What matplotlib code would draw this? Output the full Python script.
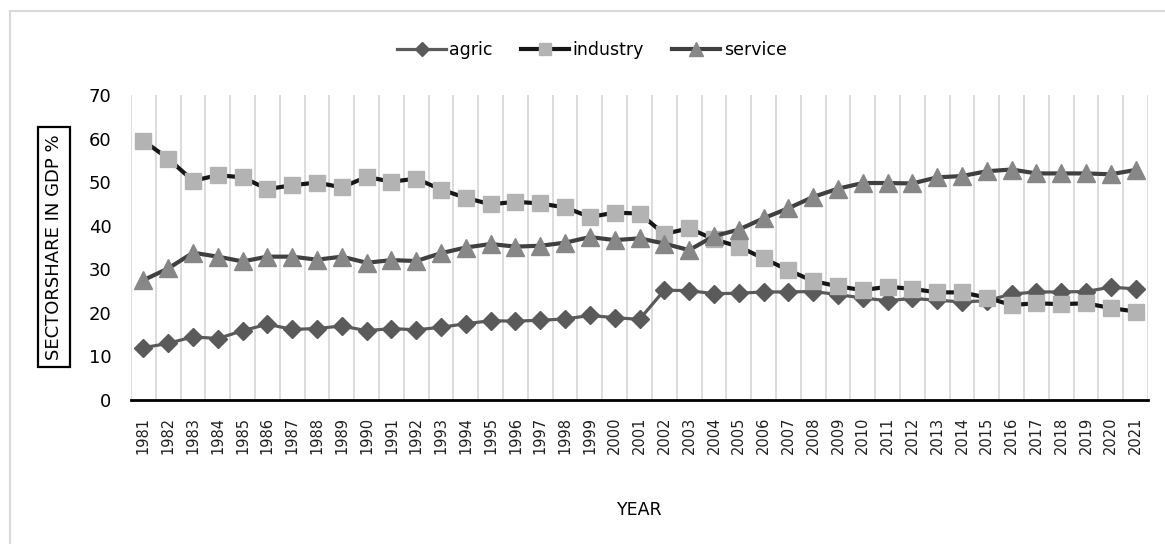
import matplotlib
matplotlib.use("Agg")
import matplotlib.pyplot as plt
from matplotlib.lines import Line2D

years = [str(y) for y in range(1981, 2022)]
agric = [12.0, 13.0, 14.5, 14.1, 15.9, 17.4, 16.2, 16.4, 17.0, 15.9,
         16.4, 16.1, 16.7, 17.5, 18.2, 18.1, 18.3, 18.6, 19.4, 18.9,
         18.5, 25.2, 25.1, 24.4, 24.5, 24.8, 24.8, 24.9, 24.2, 23.4,
         22.8, 23.3, 22.9, 22.5, 22.8, 24.3, 24.8, 24.8, 24.9, 25.9,
         25.5]
industry = [59.5, 55.4, 50.3, 51.6, 51.1, 48.4, 49.3, 49.9, 48.8, 51.2,
            50.1, 50.8, 48.3, 46.4, 44.9, 45.5, 45.1, 44.2, 42.0, 43.0,
            42.8, 38.1, 39.4, 36.9, 35.2, 32.5, 29.8, 27.3, 26.1, 25.2,
            26.0, 25.5, 24.7, 24.7, 23.5, 21.8, 22.2, 22.0, 22.2, 21.1,
            20.3]
service = [27.5, 30.2, 33.8, 32.9, 31.8, 32.9, 32.9, 32.2, 32.9, 31.5,
           32.1, 31.9, 33.7, 35.0, 35.8, 35.2, 35.4, 36.1, 37.4, 36.7,
           37.1, 35.9, 34.4, 37.6, 39.1, 41.7, 44.0, 46.6, 48.5, 49.8,
           49.8, 49.7, 51.1, 51.4, 52.5, 52.9, 52.0, 52.0, 52.0, 51.8,
           52.8]
yticks = [0, 10, 20, 30, 40, 50, 60, 70]

fam = ['DejaVu Sans']

fig = plt.figure(figsize=(11.65, 5.44), dpi=100)
ax = fig.add_axes([131/1165, 1-400/544, (1148-131)/1165, (400-95)/544])

x = list(range(len(years)))
ax.plot(x, agric, color='#5a5a5a', lw=2.3, marker='D', ms=9,
        mfc='#5a5a5a', mec='#5a5a5a', label='agric', zorder=3)
ax.plot(x, industry, color='#161616', lw=3.0, marker='s', ms=11.5,
        mfc='#b3b3b3', mec='#b3b3b3', label='industry', zorder=3)
ax.plot(x, service, color='#404040', lw=3.0, marker='^', ms=13,
        mfc='#878787', mec='#878787', label='service', zorder=3)

ax.set_xlim(-0.5, len(years) - 0.5)
ax.set_ylim(0, 70)
ax.set_yticks(yticks)
ax.set_yticklabels([str(v) for v in yticks], fontsize=13, family=fam)
ax.set_xticks(x)
ax.set_xticklabels(years, rotation=90, fontsize=10.5, family=fam,
                   color='#202020')
ax.set_xticks([i - 0.5 for i in range(len(years) + 1)], minor=True)
ax.grid(True, which='minor', axis='x', color='#d9d9d9', lw=1.3)
ax.tick_params(axis='both', which='both', length=0)
ax.tick_params(axis='x', pad=12)
ax.tick_params(axis='y', pad=14)
for s in ['top', 'right', 'left']:
    ax.spines[s].set_visible(False)
ax.spines['bottom'].set_color('black')
ax.spines['bottom'].set_linewidth(2)

ax.set_xlabel('YEAR', fontsize=12.5, family=fam, labelpad=34)

# y label in a box
fig.text(54/1165, 1-247/544, 'SECTORSHARE IN GDP %', rotation=90,
         ha='center', va='center', fontsize=13, family=fam,
         bbox=dict(boxstyle='square,pad=0.4', fc='white', ec='black', lw=1.6))

leg = fig.legend(loc='center', bbox_to_anchor=(592/1165, 1-50/544), ncol=3,
                 frameon=False, prop={'family': fam, 'size': 12.5},
                 handlelength=2.8, columnspacing=1.6, handletextpad=0.2,
                 markerscale=0.8)

# outer chart border (top and left visible)
fig.add_artist(Line2D([9.5/1165, 1.0], [1-10.5/544, 1-10.5/544],
                      color='#d9d9d9', lw=1.5, transform=fig.transFigure))
fig.add_artist(Line2D([9.5/1165, 9.5/1165], [0, 1-10.5/544],
                      color='#d9d9d9', lw=1.5, transform=fig.transFigure))

fig.savefig('out.png', dpi=100)
